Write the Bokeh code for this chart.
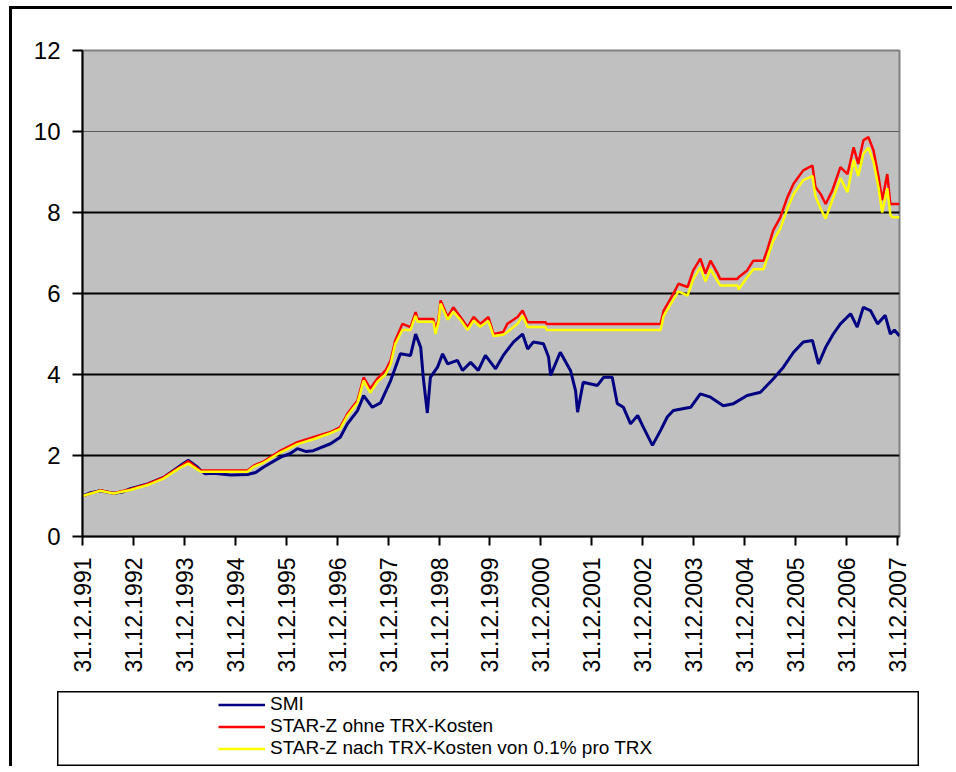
import math
from bokeh.plotting import figure
from bokeh.layouts import column, row
from bokeh.models import Range1d, FixedTicker, Legend, LegendItem, Grid, Spacer
from bokeh.embed import file_html
from bokeh.resources import INLINE

# ---- data (decimal years, index values) ----
smi_t = [1992.00, 1992.16, 1992.35, 1992.61, 1992.79, 1992.94, 1993.28, 1993.59, 1993.92, 1994.08,
         1994.26, 1994.32, 1994.41, 1994.57, 1994.91, 1995.24, 1995.40, 1995.55, 1995.89, 1996.08,
         1996.22, 1996.38, 1996.53, 1996.87, 1997.06, 1997.20, 1997.40, 1997.52, 1997.69, 1997.85,
         1998.05, 1998.24, 1998.44, 1998.54, 1998.64, 1998.69, 1998.77, 1998.83, 1998.97, 1999.07,
         1999.17, 1999.36, 1999.46, 1999.62, 1999.77, 1999.91, 2000.11, 2000.26, 2000.46, 2000.64,
         2000.74, 2000.85, 2001.05, 2001.15, 2001.19, 2001.38, 2001.58, 2001.68, 2001.72, 2001.83,
         2002.11, 2002.23, 2002.40, 2002.50, 2002.62, 2002.76, 2002.90, 2003.01, 2003.19, 2003.35,
         2003.48, 2003.60, 2003.94, 2004.13, 2004.33, 2004.58, 2004.78, 2005.05, 2005.31, 2005.56,
         2005.76, 2005.96, 2006.15, 2006.33, 2006.45, 2006.59, 2006.74, 2006.88, 2007.08, 2007.21,
         2007.33, 2007.47, 2007.61, 2007.76, 2007.86, 2007.94, 2008.04]
smi_v = [1.00, 1.08, 1.13, 1.07, 1.10, 1.18, 1.30, 1.46, 1.75, 1.88,
         1.71, 1.63, 1.55, 1.56, 1.52, 1.53, 1.58, 1.71, 1.96, 2.05,
         2.17, 2.10, 2.12, 2.29, 2.45, 2.78, 3.11, 3.48, 3.19, 3.30,
         3.85, 4.51, 4.47, 5.00, 4.67, 3.93, 3.05, 3.93, 4.18, 4.51,
         4.26, 4.35, 4.10, 4.30, 4.10, 4.47, 4.14, 4.47, 4.80, 5.00,
         4.63, 4.80, 4.76, 4.43, 3.98, 4.55, 4.10, 3.60, 3.07, 3.81,
         3.73, 3.93, 3.93, 3.28, 3.19, 2.78, 2.99, 2.70, 2.25, 2.62,
         2.95, 3.11, 3.19, 3.52, 3.44, 3.23, 3.28, 3.48, 3.56, 3.89,
         4.18, 4.55, 4.80, 4.84, 4.26, 4.67, 5.00, 5.25, 5.50, 5.17,
         5.66, 5.58, 5.25, 5.46, 5.00, 5.10, 4.95]

star_t = [1992.00, 1992.35, 1992.61, 1992.94, 1993.28, 1993.59, 1993.92, 1994.08, 1994.26, 1994.32,
          1995.24, 1995.36, 1995.55, 1995.89, 1996.22, 1996.53, 1996.87, 1997.06, 1997.20, 1997.40,
          1997.52, 1997.65, 1997.79, 1997.95, 1998.05, 1998.14, 1998.28, 1998.44, 1998.54, 1998.58,
          1998.89, 1998.93, 1998.99, 1999.03, 1999.17, 1999.28, 1999.42, 1999.56, 1999.68, 1999.81,
          1999.97, 2000.07, 2000.26, 2000.34, 2000.54, 2000.64, 2000.74, 2001.09, 2001.11, 2003.35,
          2003.41, 2003.60, 2003.70, 2003.88, 2003.99, 2004.13, 2004.23, 2004.33, 2004.47, 2004.52,
          2004.86, 2004.88, 2005.05, 2005.17, 2005.37, 2005.45, 2005.56, 2005.70, 2005.84, 2005.96,
          2006.15, 2006.33, 2006.39, 2006.49, 2006.59, 2006.72, 2006.88, 2007.02, 2007.14, 2007.23,
          2007.33, 2007.43, 2007.53, 2007.63, 2007.70, 2007.80, 2007.86, 2007.90, 2008.04]
star_gross = [1.00, 1.14, 1.07, 1.17, 1.30, 1.46, 1.73, 1.86, 1.68, 1.63,
              1.63, 1.75, 1.85, 2.12, 2.33, 2.45, 2.58, 2.70, 3.03, 3.36,
              3.93, 3.65, 3.90, 4.10, 4.35, 4.84, 5.25, 5.17, 5.54, 5.37,
              5.37, 5.09, 5.37, 5.83, 5.42, 5.66, 5.42, 5.17, 5.42, 5.25,
              5.42, 5.00, 5.05, 5.25, 5.42, 5.58, 5.29, 5.29, 5.25, 5.25,
              5.58, 5.99, 6.24, 6.16, 6.57, 6.86, 6.49, 6.81, 6.49, 6.36,
              6.36, 6.40, 6.57, 6.81, 6.81, 7.10, 7.56, 7.88, 8.38, 8.71,
              9.04, 9.16, 8.63, 8.46, 8.21, 8.54, 9.12, 8.95, 9.61, 9.20,
              9.78, 9.86, 9.53, 8.87, 8.30, 8.95, 8.21, 8.21, 8.21]
star_net = [1.00, 1.13, 1.06, 1.15, 1.27, 1.43, 1.70, 1.80, 1.65, 1.60,
            1.60, 1.72, 1.82, 2.08, 2.28, 2.40, 2.55, 2.66, 2.98, 3.30,
            3.85, 3.55, 3.82, 4.00, 4.25, 4.75, 5.10, 5.10, 5.45, 5.30,
            5.30, 5.00, 5.30, 5.75, 5.35, 5.55, 5.35, 5.10, 5.33, 5.18,
            5.32, 4.95, 4.98, 5.05, 5.25, 5.45, 5.17, 5.17, 5.10, 5.10,
            5.45, 5.85, 6.05, 5.95, 6.35, 6.65, 6.30, 6.60, 6.30, 6.20,
            6.20, 6.10, 6.40, 6.60, 6.60, 6.90, 7.30, 7.60, 8.10, 8.45,
            8.80, 8.90, 8.40, 8.10, 7.85, 8.30, 8.85, 8.50, 9.30, 8.90,
            9.45, 9.60, 9.25, 8.60, 8.00, 8.60, 7.95, 7.88, 7.88]

x_ticks = [1992, 1993, 1994, 1995, 1996, 1997, 1998, 1999, 2000,
           2001, 2002, 2003, 2004, 2005, 2006, 2007, 2008]
x_tick_labels = ["31.12.1991", "31.12.1992", "31.12.1993", "31.12.1994", "31.12.1995",
                 "31.12.1996", "31.12.1997", "31.12.1998", "31.12.1999", "31.12.2000",
                 "31.12.2001", "31.12.2002", "31.12.2003", "31.12.2004", "31.12.2005",
                 "31.12.2006", "31.12.2007"]
y_ticks = [0, 2, 4, 6, 8, 10, 12]
series_names = ["SMI", "STAR-Z ohne TRX-Kosten", "STAR-Z nach TRX-Kosten von 0.1% pro TRX"]
series_colors = ["#000080", "#ff0000", "#ffff00"]

FONT = "Liberation Sans"

# ---------------- main chart ----------------
p = figure(width=940, height=677, output_backend="svg", toolbar_location=None,
           x_range=Range1d(1992.0, 2008.04), y_range=Range1d(0, 12),
           min_border_left=70, min_border_right=53, min_border_top=41, min_border_bottom=150)
p.background_fill_color = "#c0c0c0"
p.border_fill_color = "white"
p.outline_line_color = "#808080"
p.outline_line_width = 2

for ax in (p.xaxis[0], p.yaxis[0]):
    ax.axis_line_color = "black"
    ax.axis_line_width = 2
    ax.major_tick_line_color = "black"
    ax.major_tick_line_width = 2
    ax.major_tick_in = 0
    ax.minor_tick_line_color = None
    ax.major_label_text_font = FONT
    ax.major_label_text_color = "black"

p.xaxis.ticker = FixedTicker(ticks=x_ticks)
p.xaxis.major_label_overrides = {t: l for t, l in zip(x_ticks, x_tick_labels)}
p.xaxis.major_label_orientation = math.pi / 2
p.xaxis.major_tick_out = 9
p.xaxis.major_label_standoff = 12
p.xaxis.major_label_text_font_size = "23px"

p.yaxis.ticker = FixedTicker(ticks=y_ticks)
p.yaxis.major_tick_out = 10
p.yaxis.major_label_standoff = 12
p.yaxis.major_label_text_font_size = "24px"

p.xgrid.visible = False
p.ygrid.ticker = FixedTicker(ticks=[2, 4, 6, 8])
p.ygrid.grid_line_color = "black"
p.ygrid.grid_line_width = 2
p.add_layout(Grid(dimension=1, ticker=FixedTicker(ticks=[10]),
                  grid_line_color="#5a5a5a", grid_line_width=1))

p.line(smi_t, smi_v, line_color=series_colors[0], line_width=3)
p.line(star_t, star_gross, line_color=series_colors[1], line_width=2.5)
p.line(star_t, star_net, line_color=series_colors[2], line_width=2.5)

# ---------------- legend box (its frame is the box) ----------------
lg = figure(width=862, height=75, output_backend="svg", toolbar_location=None,
            x_range=Range1d(0, 1), y_range=Range1d(0, 1),
            x_axis_location=None, y_axis_location=None,
            min_border_left=0, min_border_right=0, min_border_top=0, min_border_bottom=0)
lg.xgrid.visible = False
lg.ygrid.visible = False
lg.background_fill_color = "white"
lg.border_fill_color = "white"
lg.outline_line_color = "black"
lg.outline_line_width = 2

# legend sample renderers: the series themselves, lying outside this box's ranges
proxies = [lg.line(smi_t, smi_v, line_color=series_colors[0], line_width=2.5),
           lg.line(star_t, star_gross, line_color=series_colors[1], line_width=2.5),
           lg.line(star_t, star_net, line_color=series_colors[2], line_width=2.5)]
legend = Legend(items=[LegendItem(label=n, renderers=[r]) for n, r in zip(series_names, proxies)],
                location=(161, 7), orientation="vertical",
                border_line_alpha=0, background_fill_alpha=0,
                padding=0, margin=0, spacing=0,
                glyph_width=47, glyph_height=21, label_height=21, label_standoff=5,
                label_text_font=FONT, label_text_font_size="19px", label_text_color="black")
lg.add_layout(legend)

layout = column(p, Spacer(height=5), row(Spacer(width=45), lg, spacing=0), spacing=0,
                styles={"border-left": "3px solid black", "border-top": "3px solid black",
                        "margin-left": "9px", "margin-top": "6px"})

open("out.html", "w").write(file_html(layout, INLINE))
